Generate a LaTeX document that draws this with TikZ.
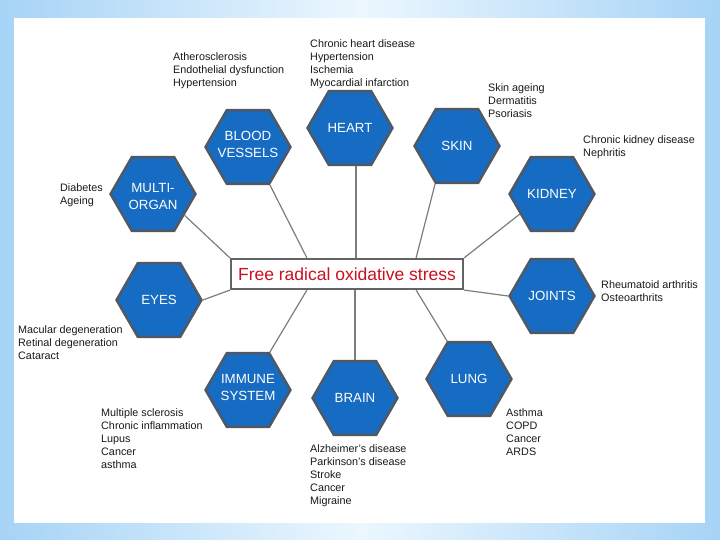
\documentclass[tikz,border=0pt]{standalone}
\usepackage{fontspec}
\setmainfont{Liberation Sans}
\usetikzlibrary{shapes.geometric,calc}
\definecolor{hexblue}{RGB}{22,108,194}
\definecolor{hexedge}{RGB}{82,88,98}
\definecolor{bgedge}{RGB}{166,211,246}
\definecolor{bgmid}{RGB}{236,247,254}
\definecolor{frred}{RGB}{204,16,32}
\definecolor{linegray}{RGB}{125,125,125}
\definecolor{frame}{RGB}{100,100,100}
\begin{document}
\begin{tikzpicture}[x=1pt,y=-1pt,
  hexa/.style={regular polygon, regular polygon sides=6, minimum size=85pt, inner sep=0pt,
    fill=hexblue, draw=hexedge, line width=2.4pt},
  hexlbl/.style={inner sep=0pt, text=white, font=\fontsize{13.3}{17}\selectfont, align=center},
  lst/.style={anchor=north west, inner sep=0pt, align=left,
    font=\fontsize{10.8}{13}\selectfont, text=black!90},
  conn/.style={draw=linegray, line width=1.2pt}]
\useasboundingbox (0,0) rectangle (720,540);
\shade[left color=bgedge, right color=bgedge, middle color=bgmid] (0,0) rectangle (720,540);
\fill[white] (14,18) rectangle (705,523);

% central box
\node[draw=frame, line width=2.2pt, fill=white, minimum width=232pt, minimum height=30pt,
  inner sep=0pt, text=frred, font=\fontsize{17.5}{20}\selectfont] (fr) at (347,274)
  {Free radical oxidative stress};

% hexagons
\node[hexa] (mo) at (153,194) {};
\node[hexa] (bv) at (248,147) {};
\node[hexa] (heart) at (350,128) {};
\node[hexa] (skin) at (457,146) {};
\node[hexa] (kid) at (552,194) {};
\node[hexa] (joints) at (552,296) {};
\node[hexa] (lung) at (469,379) {};
\node[hexa] (brain) at (355,398) {};
\node[hexa] (imm) at (248,390) {};
\node[hexa] (eyes) at (159,300) {};

% hexagon labels
\node[hexlbl] (moL) at ($(mo)+(0,2)$) {MULTI-\\ORGAN};
\node[hexlbl] (bvL) at ($(bv)+(0,-3)$) {BLOOD\\VESSELS};
\node[hexlbl] (heartL) at (heart) {HEART};
\node[hexlbl] (skinL) at (skin) {SKIN};
\node[hexlbl] (kidL) at (kid) {KIDNEY};
\node[hexlbl] (jointsL) at (joints) {JOINTS};
\node[hexlbl] (lungL) at (lung) {LUNG};
\node[hexlbl] (brainL) at (brain) {BRAIN};
\node[hexlbl] (immL) at ($(imm)+(0,-3)$) {IMMUNE\\SYSTEM};
\node[hexlbl] (eyesL) at (eyes) {EYES};

% connectors
\draw[conn] (mo.-34) -- (fr.north west);
\draw[conn] (bv.-60) -- ($(fr.north west)+(77,0)$);
\draw[conn] (heart.-81) -- (heart.-81 |- fr.north);
\draw[conn] (skin.-120) -- ($(fr.north east)+(-48,0)$);
\draw[conn] (kid.-148) -- (fr.north east);
\draw[conn] (joints.west) -- (fr.south east);
\draw[conn] (lung.120) -- ($(fr.south east)+(-48,0)$);
\draw[conn] (brain.north) -- (brain.north |- fr.south);
\draw[conn] (imm.60) -- ($(fr.south west)+(77,0)$);
\draw[conn] (eyes.east) -- (fr.south west);

% lists
\node[lst] (bvT) at (173,52) {Atherosclerosis\\Endothelial dysfunction\\Hypertension};
\node[lst] (heartT) at (310,39) {Chronic heart disease\\Hypertension\\Ischemia\\Myocardial infarction};
\node[lst] (skinT) at (488,83) {Skin ageing\\Dermatitis\\Psoriasis};
\node[lst] (kidT) at (583,135) {Chronic kidney disease\\Nephritis};
\node[lst] (moT) at (60,183) {Diabetes\\Ageing};
\node[lst] (jointsT) at (601,280) {Rheumatoid arthritis\\Osteoarthrits};
\node[lst] (eyesT) at (18,325) {Macular degeneration\\Retinal degeneration\\Cataract};
\node[lst] (immT) at (101,408) {Multiple sclerosis\\Chronic inflammation\\Lupus\\Cancer\\asthma};
\node[lst] (brainT) at (310,444) {Alzheimer's disease\\Parkinson's disease\\Stroke\\Cancer\\Migraine};
\node[lst] (lungT) at (506,408) {Asthma\\COPD\\Cancer\\ARDS};
\end{tikzpicture}
\end{document}
